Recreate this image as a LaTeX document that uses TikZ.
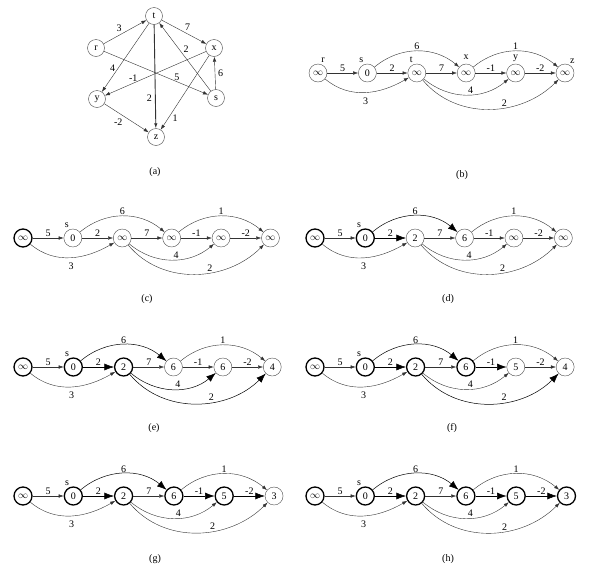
\documentclass[tikz,border=0pt]{standalone}
\usepackage{fontspec}
\setmainfont{Liberation Serif}
\usetikzlibrary{arrows.meta,positioning}

\tikzset{
  n-r/.style={}, n-s/.style={label={[lbl]110:s}}, n-t/.style={},
  n-x/.style={}, n-y/.style={}, n-z/.style={},
  e-rs/.style={}, e-rt/.style={}, e-st/.style={}, e-sx/.style={}, e-tx/.style={},
  e-ty/.style={}, e-tz/.style={}, e-xy/.style={}, e-xz/.style={}, e-yz/.style={}
}

% one row of the DAG: position, name prefix, the six values r s t x y z
\newcommand{\dagrow}[8]{%
  \node[vtx,n-r] (#2r) at #1 {#3};
  \node[vtx,n-s,right=of #2r] (#2s) {#4};
  \node[vtx,n-t,right=of #2s] (#2t) {#5};
  \node[vtx,n-x,right=of #2t] (#2x) {#6};
  \node[vtx,n-y,right=of #2x] (#2y) {#7};
  \node[vtx,n-z,right=of #2y] (#2z) {#8};
  \draw[edge,e-rs] (#2r) -- node[wt,above] {5} (#2s);
  \draw[edge,e-st] (#2s) -- node[wt,above] {2} (#2t);
  \draw[edge,e-tx] (#2t) -- node[wt,above] {7} (#2x);
  \draw[edge,e-xy] (#2x) -- node[wt,above] {-1} (#2y);
  \draw[edge,e-yz] (#2y) -- node[wt,above] {-2} (#2z);
  \draw[edge,e-sx] (#2s) to[out=40,in=140] node[wt,above] {6} (#2x);
  \draw[edge,e-xz] (#2x) to[out=40,in=140] node[wt,above] {1} (#2z);
  \draw[edge,e-rt] (#2r) to[out=-40,in=-150] node[wt,below=4pt] {3} (#2t);
  \draw[edge,e-ty] (#2t) to[out=-40,in=-140] node[wt,above,pos=0.55] {4} (#2y);
  \draw[edge,e-tz] (#2t) to[out=-50,in=-135] node[wt,above,pos=0.6] {2} (#2z);
}

\begin{document}
\begin{tikzpicture}[
    x=1pt,y=1pt,node distance=31pt,font=\fontsize{10}{12}\selectfont,
    vtx/.style={circle,draw=black!70,minimum size=18pt,inner sep=0pt},
    done/.style={draw=black,line width=1.3pt},
    lbl/.style={inner sep=0.5pt,label distance=1pt},
    wt/.style={inner sep=1pt},
    edge/.style={-{Latex[length=5pt,width=3.5pt]},draw=black!80,line width=0.4pt},
    heavy/.style={-{Latex[length=9.5pt,width=7pt]},draw=black,line width=0.5pt},
    capt/.style={inner sep=0pt}
  ]
  \useasboundingbox (0,0) rectangle (600,-576);

  % (a) the graph
  \begin{scope}[vtx/.append style={minimum size=17pt}]
    \node[vtx] (at) at (154,-16) {t};
    \node[vtx] (ar) at (96,-48) {r};
    \node[vtx] (ax) at (214,-48) {x};
    \node[vtx] (ay) at (97,-99) {y};
    \node[vtx] (as) at (216,-98) {s};
    \node[vtx] (az) at (156,-137) {z};
    \draw[edge] (ar) -- node[wt,above left=0pt,pos=0.45] {3} (at);
    \draw[edge] (at) -- node[wt,above right=0pt] {7} (ax);
    \draw[edge] (as) -- node[wt,above right=0pt,pos=0.55] {2} (at);
    \draw[edge] (as) -- node[wt,right=2pt] {6} (ax);
    \draw[edge] (ar) -- node[wt,above,pos=0.7] {5} (as);
    \draw[edge] (ax) -- node[wt,above,pos=0.72] {-1} (ay);
    \draw[edge] (at) -- node[wt,left=2pt,pos=0.65] {4} (ay);
    \draw[edge,line width=0.9pt] (at) -- node[wt,left=2pt,pos=0.71] {2} (az);
    \draw[edge] (ax) -- node[wt,below right=0pt,pos=0.78] {1} (az);
    \draw[edge] (ay) -- node[wt,below left=1pt,pos=0.45] {-2} (az);
  \end{scope}

  % (b)
  \begin{scope}[n-r/.style={label={[lbl]75:r}}, n-t/.style={label={[lbl]110:t}},
                n-x/.style={label={[lbl,label distance=4pt]90:x}},
                n-y/.style={label={[lbl]90:y}}, n-z/.style={label={[lbl]65:z}}]
    \dagrow{(318,-73)}{b}{$\infty$}{0}{$\infty$}{$\infty$}{$\infty$}{$\infty$}
  \end{scope}

  % (c)
  \begin{scope}[n-r/.style=done]
    \dagrow{(23,-238)}{c}{$\infty$}{0}{$\infty$}{$\infty$}{$\infty$}{$\infty$}
  \end{scope}

  % (d)
  \begin{scope}[n-r/.style=done, n-s/.append style=done,
                e-st/.style=heavy, e-sx/.style=heavy]
    \dagrow{(315,-238)}{d}{$\infty$}{0}{2}{6}{$\infty$}{$\infty$}
  \end{scope}

  % (e)
  \begin{scope}[n-r/.style=done, n-s/.append style=done, n-t/.style=done,
                e-st/.style=heavy, e-sx/.style=heavy, e-ty/.style=heavy, e-tz/.style=heavy]
    \dagrow{(23,-367)}{e}{$\infty$}{0}{2}{6}{6}{4}
  \end{scope}

  % (f)
  \begin{scope}[n-r/.style=done, n-s/.append style=done, n-t/.style=done, n-x/.style=done,
                e-st/.style=heavy, e-sx/.style=heavy, e-xy/.style=heavy, e-tz/.style=heavy]
    \dagrow{(315,-367)}{f}{$\infty$}{0}{2}{6}{5}{4}
  \end{scope}

  % (g)
  \begin{scope}[n-r/.style=done, n-s/.append style=done, n-t/.style=done, n-x/.style=done,
                n-y/.style=done,
                e-st/.style=heavy, e-sx/.style=heavy, e-xy/.style=heavy, e-yz/.style=heavy]
    \dagrow{(23,-496)}{g}{$\infty$}{0}{2}{6}{5}{3}
  \end{scope}

  % (h)
  \begin{scope}[n-r/.style=done, n-s/.append style=done, n-t/.style=done, n-x/.style=done,
                n-y/.style=done, n-z/.style=done,
                e-st/.style=heavy, e-sx/.style=heavy, e-xy/.style=heavy, e-yz/.style=heavy]
    \dagrow{(315,-496)}{h}{$\infty$}{0}{2}{6}{5}{3}
  \end{scope}

  % captions
  \node[capt] (capa) at (155,-172) {(a)};
  \node[capt] (capb) at (462,-175) {(b)};
  \node[capt] (capc) at (147,-299) {(c)};
  \node[capt] (capd) at (448,-299) {(d)};
  \node[capt] (cape) at (154,-428) {(e)};
  \node[capt] (capf) at (452,-428) {(f)};
  \node[capt] (capg) at (155,-559) {(g)};
  \node[capt] (caph) at (448,-559) {(h)};
\end{tikzpicture}
\end{document}
